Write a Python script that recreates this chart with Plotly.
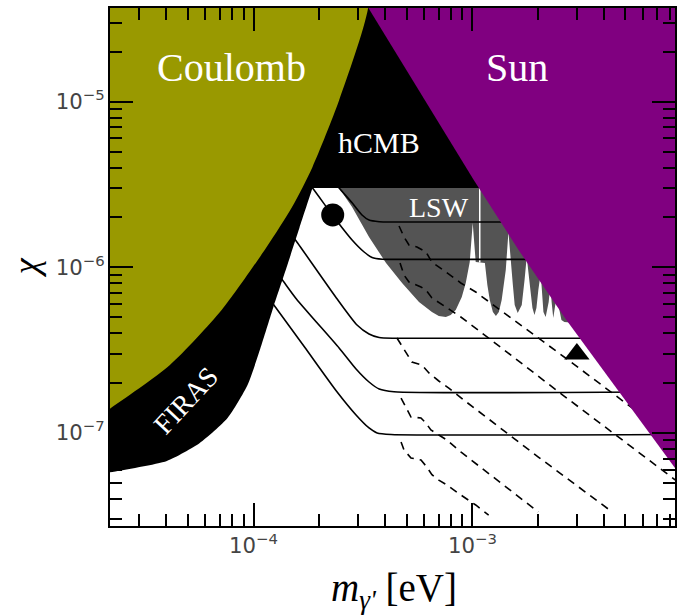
import math
import plotly.graph_objects as go

# ---------------- axis extent (eV, chi) ----------------
M_MIN, M_MAX = 2.21e-5, 8.42e-3
CHI_MIN, CHI_MAX = 2.74e-8, 3.68e-5
FAR_M_LO, FAR_M_HI = 1.0e-5, 2.0e-2
FAR_CHI_LO, FAR_CHI_HI = 1.0e-8, 1.0e-4

# ---------------- excluded regions ----------------
# Coulomb boundary (top -> bottom-left)
COULOMB_M = [3.34e-4, 2.46e-4, 1.86e-4, 1.50e-4, 1.15e-4, 7.15e-5, 4.15e-5, 2.17e-5, 2.0e-5]
COULOMB_CHI = [3.70e-5, 1.02e-5, 4.04e-6, 2.31e-6, 1.33e-6, 5.52e-7, 2.57e-7, 1.375e-7, 1.27e-7]

# hCMB lower edge (= top of LSW) and FIRAS lower boundary
HCMB_CHI = 3.01e-6
HCMB_M_RIGHT = 1.2e-3
FIRAS_M = [1.95e-4, 1.86e-4, 1.62e-4, 1.413e-4, 1.233e-4, 1.087e-4, 9.39e-5, 7.61e-5, 5.68e-5, 4.02e-5, 2.14e-5, 2.0e-5]
FIRAS_CHI = [3.6e-6, 3.01e-6, 1.727e-6, 9.90e-7, 5.76e-7, 3.395e-7, 1.947e-7, 1.230e-7, 8.69e-8, 6.77e-8, 5.73e-8, 5.6e-8]

# Sun boundary (top -> bottom-right)
SUN_M = [3.34e-4, 1.014e-3, 1.625e-3, 2.686e-3, 8.42e-3, 1.0e-2]
SUN_CHI = [3.70e-5, 3.37e-6, 1.272e-6, 4.81e-7, 6.14e-8, 4.5e-8]

# LSW region outline
LSW_M = [2.46e-4, 3.76e-3, 3.76e-3, 2.63e-3, 2.55e-3, 2.47e-3, 2.44e-3, 2.39e-3, 2.34e-3, 2.30e-3,
         2.27e-3, 2.23e-3, 2.18e-3, 2.16e-3, 2.11e-3, 2.09e-3, 2.05e-3, 2.00e-3, 1.96e-3, 1.92e-3,
         1.88e-3, 1.84e-3, 1.77e-3, 1.73e-3, 1.68e-3, 1.61e-3, 1.56e-3, 1.53e-3, 1.46e-3, 1.42e-3,
         1.36e-3, 1.32e-3, 1.28e-3, 1.24e-3, 1.20e-3, 1.17e-3, 1.14e-3, 1.035e-3, 1.003e-3, 9.72e-4,
         9.32e-4, 8.94e-4, 8.39e-4, 7.96e-4, 7.56e-4, 7.02e-4, 6.53e-4, 5.70e-4, 4.77e-4, 4.03e-4,
         3.37e-4, 2.82e-4]
LSW_CHI = [3.01e-6, 3.01e-6, 4.48e-7, 4.67e-7, 4.81e-7, 5.92e-7, 7.09e-7, 5.92e-7, 4.94e-7, 6.17e-7,
           7.82e-7, 6.17e-7, 5.22e-7, 5.01e-7, 5.37e-7, 6.35e-7, 9.24e-7, 7.29e-7, 5.68e-7, 5.15e-7,
           5.68e-7, 7.29e-7, 1.154e-6, 8.38e-7, 5.92e-7, 5.30e-7, 5.92e-7, 7.82e-7, 1.634e-6, 9.63e-7,
           6.35e-7, 5.37e-7, 5.08e-7, 5.37e-7, 6.35e-7, 7.82e-7, 1.062e-6, 1.076e-6, 1.851e-6, 1.076e-6,
           8.04e-7, 6.62e-7, 5.52e-7, 5.15e-7, 5.01e-7, 5.08e-7, 5.37e-7, 6.17e-7, 8.04e-7, 1.062e-6,
           1.524e-6, 2.31e-6]
LSW_GAP_M = [1.08e-3, 1.08e-3]
LSW_GAP_CHI = [3.01e-6, 1.07e-6]

# ---------------- sensitivity curves ----------------
SOLID_M = [
    [2.22e-4, 2.46e-4, 2.82e-4, 3.13e-4, 3.37e-4, 3.75e-4, 4.38e-4, 8.7e-3],
    [1.67e-4, 1.86e-4, 2.29e-4, 2.82e-4, 3.20e-4, 3.48e-4, 3.87e-4, 4.38e-4, 8.7e-3],
    [1.46e-4, 1.59e-4, 2.39e-4, 2.97e-4, 3.37e-4, 3.75e-4, 4.38e-4, 8.7e-3],
    [1.25e-4, 1.355e-4, 1.57e-4, 2.46e-4, 2.94e-4, 3.37e-4, 3.75e-4, 4.38e-4, 8.7e-3],
    [1.12e-4, 1.22e-4, 1.71e-4, 2.39e-4, 2.94e-4, 3.37e-4, 3.67e-4, 4.25e-4, 8.7e-3],
]
SOLID_CHI = [
    [3.56e-6, 3.01e-6, 2.45e-6, 2.07e-6, 1.93e-6, 1.885e-6, 1.877e-6, 1.877e-6],
    [3.56e-6, 3.01e-6, 2.07e-6, 1.462e-6, 1.237e-6, 1.146e-6, 1.119e-6, 1.117e-6, 1.117e-6],
    [1.634e-6, 1.402e-6, 6.53e-7, 4.48e-7, 3.956e-7, 3.767e-7, 3.726e-7, 3.726e-7],
    [9.63e-7, 8.38e-7, 6.44e-7, 3.256e-7, 2.431e-7, 2.029e-7, 1.841e-7, 1.773e-7, 1.773e-7],
    [7.09e-7, 6.09e-7, 3.30e-7, 1.791e-7, 1.283e-7, 1.071e-7, 9.99e-8, 9.78e-8, 9.78e-8],
]
DASHED_M = [
    [4.62e-4, 4.87e-4, 5.13e-4, 5.58e-4, 6.13e-4, 6.53e-4, 7.56e-4, 8.85e-4, 1.035e-3, 2.74e-3, 6.35e-3],
    [4.67e-4, 4.87e-4, 5.13e-4, 5.82e-4, 6.13e-4, 6.53e-4, 7.56e-4, 8.85e-4, 1.36e-3, 2.55e-3, 8.69e-3],
    [4.52e-4, 4.87e-4, 5.29e-4, 5.88e-4, 6.33e-4, 7.02e-4, 7.80e-4, 9.13e-4, 2.00e-3, 4.35e-3],
    [4.72e-4, 4.97e-4, 5.24e-4, 5.82e-4, 6.13e-4, 6.46e-4, 7.02e-4, 7.64e-4, 8.85e-4, 2.00e-3],
    [4.72e-4, 4.87e-4, 5.24e-4, 5.82e-4, 6.19e-4, 6.53e-4, 7.02e-4, 7.64e-4, 8.85e-4, 1.035e-3, 1.186e-3],
]
DASHED_CHI = [
    [1.776e-6, 1.524e-6, 1.363e-6, 1.327e-6, 1.237e-6, 1.076e-6, 9.37e-7, 8.04e-7, 7.09e-7, 2.756e-7, 1.197e-7],
    [1.062e-6, 8.98e-7, 8.15e-7, 7.60e-7, 7.29e-7, 6.53e-7, 5.76e-7, 5.01e-7, 3.256e-7, 1.717e-7, 5.05e-8],
    [3.741e-7, 3.167e-7, 2.680e-7, 2.570e-7, 2.300e-7, 2.058e-7, 1.866e-7, 1.580e-7, 7.15e-8, 3.33e-8],
    [1.624e-7, 1.414e-7, 1.247e-7, 1.230e-7, 1.148e-7, 1.041e-7, 9.71e-8, 9.06e-8, 7.67e-8, 3.33e-8],
    [8.81e-8, 7.88e-8, 7.05e-8, 6.86e-8, 6.22e-8, 5.59e-8, 5.19e-8, 4.85e-8, 4.22e-8, 3.67e-8, 3.19e-8],
]

# benchmark points
CIRCLE_M, CIRCLE_CHI = [2.3e-4], [2.07e-6]
TRIANGLE_M, TRIANGLE_CHI = [3.0e-3], [3.0e-7]

# ---------------- colours ----------------
OLIVE = "#999900"
PURPLE = "#800080"
GREY = "#545454"

fig = go.Figure()


def poly(xs, ys, color, shape="linear", smoothing=1.0):
    fig.add_trace(go.Scatter(x=xs, y=ys, mode="lines", fill="toself", fillcolor=color,
                             line=dict(width=0, color=color, shape=shape, smoothing=smoothing),
                             hoverinfo="skip"))


# LSW
poly(LSW_M, LSW_CHI, GREY)
fig.add_trace(go.Scatter(x=LSW_GAP_M, y=LSW_GAP_CHI, mode="lines",
                         line=dict(color="white", width=1.5), hoverinfo="skip"))

# curves
for xs, ys in zip(SOLID_M, SOLID_CHI):
    fig.add_trace(go.Scatter(x=xs, y=ys, mode="lines",
                             line=dict(color="black", width=1.6, shape="spline", smoothing=0.6),
                             hoverinfo="skip"))
for xs, ys in zip(DASHED_M, DASHED_CHI):
    fig.add_trace(go.Scatter(x=xs, y=ys, mode="lines",
                             line=dict(color="black", width=1.6, dash="8px,6px"),
                             hoverinfo="skip"))

# hCMB (black, straight edges)
poly([FAR_M_LO, 5.0e-4, HCMB_M_RIGHT, FAR_M_LO],
     [FAR_CHI_HI, FAR_CHI_HI, HCMB_CHI, HCMB_CHI], "black")
# FIRAS band (black, smooth lower edge)
poly(FIRAS_M + [FAR_M_LO, FAR_M_LO],
     FIRAS_CHI + [FIRAS_CHI[-1], FIRAS_CHI[0]], "black", "spline", 0.6)

# Coulomb (olive)
cx = [3.4e-4] + COULOMB_M + [FAR_M_LO, FAR_M_LO]
cy = [FAR_CHI_HI] + COULOMB_CHI + [COULOMB_CHI[-1], FAR_CHI_HI]
poly(cx, cy, OLIVE, "spline", 0.7)

# Sun (purple)
sx = [3.2e-4] + SUN_M + [FAR_M_HI, FAR_M_HI]
sy = [FAR_CHI_HI] + SUN_CHI + [SUN_CHI[-1], FAR_CHI_HI]
poly(sx, sy, PURPLE)

# markers
fig.add_trace(go.Scatter(x=CIRCLE_M, y=CIRCLE_CHI, mode="markers",
                         marker=dict(symbol="circle", size=23, color="black"), hoverinfo="skip"))
fig.add_trace(go.Scatter(x=TRIANGLE_M, y=TRIANGLE_CHI, mode="markers",
                         marker=dict(symbol="triangle-up", size=22, color="black"), hoverinfo="skip"))

SERIF = "Liberation Serif"
labels = [
    ("Coulomb", 0.2152, 0.886, 40, 0),
    ("Sun", 0.7205, 0.886, 40, 0),
    ("hCMB", 0.4762, 0.741, 30, 0),
    ("LSW", 0.582, 0.615, 28, 0),
    ("FIRAS", 0.134, 0.243, 28, -47),
]
for txt, x, y, s, ang in labels:
    fig.add_annotation(text=txt, x=x, y=y, xref="paper", yref="paper", showarrow=False,
                       textangle=ang, font=dict(family=SERIF, size=s, color="white"),
                       xanchor="center", yanchor="middle")

fig.add_annotation(text="<i>χ</i>", x=-0.149, y=0.499, xref="paper", yref="paper",
                   showarrow=False, textangle=-90,
                   font=dict(family=SERIF, size=36, color="black"),
                   xanchor="center", yanchor="middle")
fig.add_annotation(text="<i>m</i><sub><i>γ'</i></sub> [eV]", x=0.5035, y=-0.124,
                   xref="paper", yref="paper", showarrow=False,
                   font=dict(family=SERIF, size=39, color="black"),
                   xanchor="center", yanchor="middle")

axis_common = dict(
    type="log", showgrid=False, zeroline=False, showline=True, linecolor="black",
    linewidth=2, mirror="allticks", ticks="inside", ticklen=23, tickwidth=1.5,
    tickcolor="black", dtick=1, exponentformat="power",
    tickfont=dict(family="DejaVu Sans", size=17, color="#444"),
    minor=dict(ticks="inside", ticklen=12, tickwidth=1.5, tickcolor="black",
               dtick="D1", showgrid=False),
)
fig.update_xaxes(range=[math.log10(M_MIN), math.log10(M_MAX)], **axis_common)
fig.update_yaxes(range=[math.log10(CHI_MIN), math.log10(CHI_MAX)], **axis_common)

fig.update_layout(
    width=677, height=615,
    margin=dict(l=110, r=0, t=8, b=89),
    paper_bgcolor="white", plot_bgcolor="white",
    showlegend=False,
)

fig.write_html("out.html", config={"displayModeBar": False},
               post_script="document.body.style.margin='0px';")
